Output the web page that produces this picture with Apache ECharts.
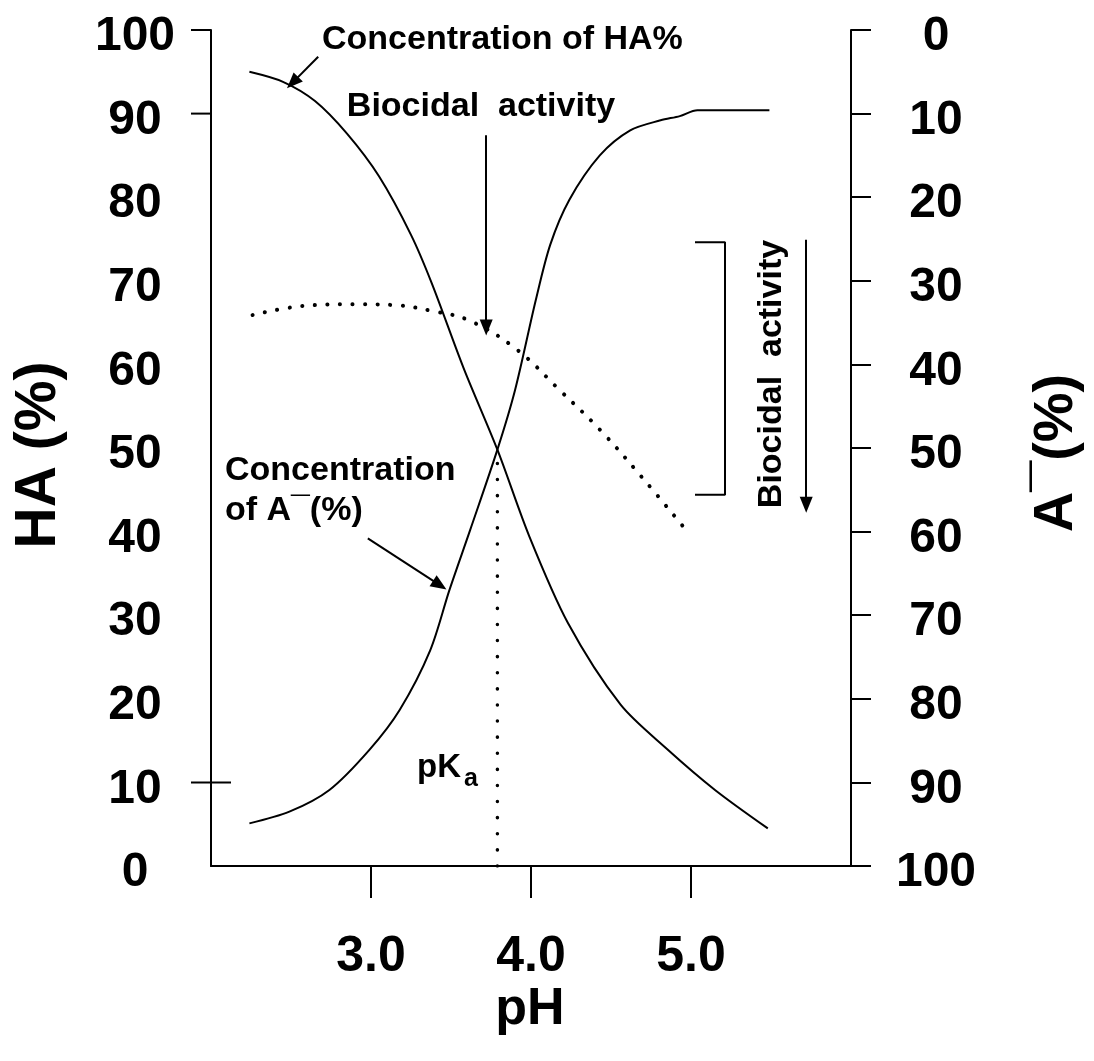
<!DOCTYPE html>
<html><head><meta charset="utf-8">
<script src="https://cdn.jsdelivr.net/npm/echarts@6/dist/echarts.min.js"></script>
<style>html,body{margin:0;padding:0;background:#fff}#c{width:1094px;height:1061px}</style>
</head><body><div id="c"></div>
<script>
// ---- data ----
const xTickValues = [3, 4, 5];
const yTickValues = [0, 10, 20, 30, 40, 50, 60, 70, 80, 90, 100];
const leftTickValues = [100, 90, 10];

const haPH  = [2.24, 2.45, 2.65, 2.85, 3.05, 3.25, 3.38, 3.58, 3.79, 3.99, 4.23, 4.56, 4.85, 5.15, 5.48];
const haVal = [95.0, 93.8, 91.5, 87.6, 82.5, 75.5, 69.7, 59.5, 49.8, 39.4, 29.1, 19.3, 14.0, 9.1, 4.5];

const aPH  = [2.24, 2.49, 2.74, 2.99, 3.18, 3.37, 3.49, 3.62, 3.79, 3.90, 4.03, 4.12, 4.24, 4.43, 4.62, 4.81, 4.93, 5.04, 5.49];
const aVal = [5.1, 6.5, 9.1, 13.9, 18.7, 25.8, 33.0, 40.2, 49.8, 56.9, 67.7, 74.3, 79.7, 85.0, 88.0, 89.2, 89.7, 90.4, 90.4];

const bioPH  = [2.26, 2.58, 2.90, 3.14, 3.38, 3.62, 3.91, 4.18, 4.43, 4.68, 4.96];
const bioVal = [65.9, 67.0, 67.2, 67.1, 66.4, 65.2, 61.8, 56.9, 52.2, 46.8, 40.4];

const pKa = 3.79;
const pKaCross = 49.8;

// annotation arrows (data coordinates: [pH, %])
const arrowHA   = [[2.67, 96.8], [2.51, 93.7]];
const arrowBio  = [[3.72, 87.4], [3.72, 64.4]];
const arrowA    = [[2.98, 39.2], [3.43, 33.6]];
const arrowSide = [[5.72, 74.9], [5.72, 43.2]];
const bracketPH  = [5.025, 5.2125, 5.2125, 5.025];
const bracketVal = [74.6, 74.6, 44.4, 44.4];

const zip = (a, b) => a.map((v, i) => [v, b[i]]);
const FONT = '"Liberation Sans", Arial, Helvetica, sans-serif';
const chart = echarts.init(document.getElementById('c'), null, {renderer: 'canvas'});

const arrowLine = (pts) => [{coord: pts[0], symbol: 'none'}, {coord: pts[1], symbol: 'triangle', symbolSize: [13, 16]}];
const tickRich = {t: {padding: [14, 0, 0, 0], fontFamily: FONT, fontWeight: 'bold', fontSize: 48, color: '#000'}};

const option = {
  backgroundColor: '#fff',
  animation: false,
  grid: {left: 211, top: 30, width: 640, height: 836},
  xAxis: {
    type: 'value', min: 2, max: 6, interval: 1,
    axisLine: {lineStyle: {color: '#000', width: 2}},
    axisTick: {show: true, inside: false, length: 32, customValues: xTickValues, lineStyle: {color: '#000', width: 2}},
    axisLabel: {customValues: xTickValues, formatter: v => v.toFixed(1), margin: 66, color: '#000',
      fontFamily: FONT, fontWeight: 'bold', fontSize: 50},
    splitLine: {show: false}
  },
  yAxis: [{
    type: 'value', min: 0, max: 100, interval: 10, position: 'left',
    axisLine: {show: true, lineStyle: {color: '#000', width: 2}},
    axisTick: {show: false},
    axisLabel: {customValues: yTickValues, align: 'center', margin: 76, color: '#000',
      formatter: v => '{t|' + v + '}', rich: tickRich,
      fontFamily: FONT, fontWeight: 'bold', fontSize: 48},
    splitLine: {show: false}
  }, {
    type: 'value', min: 0, max: 100, interval: 10, position: 'right', inverse: true,
    axisLine: {show: true, lineStyle: {color: '#000', width: 2}},
    axisTick: {show: true, inside: false, length: 20, lineStyle: {color: '#000', width: 2}},
    axisLabel: {align: 'center', margin: 85, color: '#000',
      formatter: v => '{t|' + v + '}', rich: tickRich,
      fontFamily: FONT, fontWeight: 'bold', fontSize: 48},
    splitLine: {show: false}
  }],
  series: [
    {type: 'line', name: 'HA', data: zip(haPH, haVal), smooth: 0.3, symbol: 'none',
      lineStyle: {color: '#000', width: 2}},
    {type: 'line', name: 'A-', data: zip(aPH, aVal), smooth: 0.3, symbol: 'none',
      lineStyle: {color: '#000', width: 2}},
    {type: 'line', name: 'Biocidal', data: zip(bioPH, bioVal), smooth: 0.4, symbol: 'none',
      lineStyle: {color: '#000', width: 4, type: [0.1, 12.5], cap: 'round'}},
    {type: 'line', name: 'pKa', data: [[pKa, 0], [pKa, pKaCross]], symbol: 'none',
      lineStyle: {color: '#000', width: 3.5, type: [0.1, 16], cap: 'round'}},
    {type: 'line', name: 'bracket', data: zip(bracketPH, bracketVal), symbol: 'none',
      lineStyle: {color: '#000', width: 2}},
    {type: 'line', name: 'arrows', data: [], symbol: 'none',
      markLine: {silent: true, animation: false,
        lineStyle: {color: '#000', width: 2, type: 'solid'},
        label: {show: false},
        data: [arrowLine(arrowHA), arrowLine(arrowBio), arrowLine(arrowA), arrowLine(arrowSide)]}},
    {type: 'custom', name: 'leftTicks', coordinateSystem: 'cartesian2d', clip: false,
      data: leftTickValues.map(v => [2, v]), encode: {x: 0, y: 1},
      renderItem: (params, api) => {
        const p = api.coord([api.value(0), api.value(1)]);
        const inner = api.value(1) === 10 ? 20 : 0;
        return {type: 'line', shape: {x1: p[0] - 20, y1: p[1], x2: p[0] + inner, y2: p[1]},
          style: {stroke: '#000', lineWidth: 2}};
      }}
  ],
  graphic: [
    {type: 'text', x: 322, y: 40, style: {text: 'Concentration of HA%', font: 'bold 34px ' + FONT, fill: '#000', textVerticalAlign: 'middle'}},
    {type: 'text', x: 481, y: 107, style: {text: 'Biocidal  activity', font: 'bold 34px ' + FONT, fill: '#000', textAlign: 'center', textVerticalAlign: 'middle'}},
    {type: 'text', x: 225, y: 471, style: {text: 'Concentration', font: 'bold 34px ' + FONT, fill: '#000', textVerticalAlign: 'middle'}},
    {type: 'text', x: 225, y: 511, style: {text: 'of A\u00AF(%)', font: 'bold 34px ' + FONT, fill: '#000', textVerticalAlign: 'middle'}},
    {type: 'text', x: 417, y: 768, style: {text: 'pK', font: 'bold 33px ' + FONT, fill: '#000', textVerticalAlign: 'middle'}},
    {type: 'text', x: 464, y: 779, style: {text: 'a', font: 'bold 25px ' + FONT, fill: '#000', textVerticalAlign: 'middle'}},
    {type: 'text', x: 772, y: 374, rotation: Math.PI / 2, style: {text: 'Biocidal  activity', font: 'bold 34px ' + FONT, fill: '#000', textAlign: 'center', textVerticalAlign: 'middle'}},
    {type: 'text', x: 39, y: 455, rotation: Math.PI / 2, style: {text: 'HA (%)', font: 'bold 57px ' + FONT, fill: '#000', textAlign: 'center', textVerticalAlign: 'middle'}},
    {type: 'text', x: 1057, y: 453, rotation: Math.PI / 2, style: {text: 'A\u00AF(%)', font: 'bold 56px ' + FONT, fill: '#000', textAlign: 'center', textVerticalAlign: 'middle'}},
    {type: 'text', x: 530, y: 1010, style: {text: 'pH', font: 'bold 52px ' + FONT, fill: '#000', textAlign: 'center', textVerticalAlign: 'middle'}}
  ]
};
chart.setOption(option);
</script>
</body></html>
